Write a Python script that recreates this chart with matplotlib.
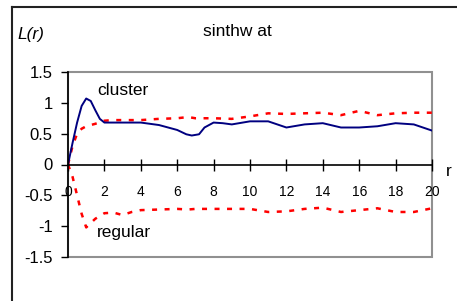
import matplotlib.pyplot as plt
from matplotlib.lines import Line2D
from matplotlib.patches import Rectangle

plt.rcParams['font.family'] = ['Liberation Sans', 'DejaVu Sans']

# observed L(r) for the pattern
r_obs = [0, 0.25, 0.5, 0.75, 1.0, 1.25, 1.5, 1.75, 2, 3, 4, 5, 6, 6.5, 6.8,
         7.2, 7.5, 8, 8.5, 9, 10, 11, 12, 13, 14, 15, 16, 17, 18, 19, 20]
L_obs = [0, 0.35, 0.68, 0.95, 1.07, 1.03, 0.88, 0.74, 0.68, 0.68, 0.68, 0.64,
         0.56, 0.49, 0.47, 0.49, 0.60, 0.68, 0.67, 0.65, 0.70, 0.70, 0.60,
         0.65, 0.67, 0.60, 0.60, 0.62, 0.67, 0.65, 0.55]

# simulation envelopes
r_env = [0, 0.25, 0.5, 0.75, 1.0, 1.5, 2, 2.5, 3, 3.5, 4, 5, 6, 6.6, 7, 8, 9,
         10, 11, 12, 13, 14, 15, 16, 17, 18, 19, 20]
L_upper = [0, 0.30, 0.50, 0.58, 0.62, 0.66, 0.71, 0.72, 0.72, 0.72, 0.72, 0.74,
           0.75, 0.77, 0.75, 0.75, 0.74, 0.78, 0.83, 0.82, 0.83, 0.84, 0.80,
           0.87, 0.80, 0.83, 0.84, 0.84]
L_lower = [0, -0.20, -0.50, -0.80, -1.02, -0.88, -0.79, -0.78, -0.82, -0.77,
           -0.74, -0.73, -0.72, -0.73, -0.72, -0.72, -0.72, -0.72, -0.77, -0.76,
           -0.72, -0.70, -0.77, -0.74, -0.71, -0.77, -0.77, -0.71]

x_ticks = list(range(0, 21, 2))
y_ticks = [-1.5, -1, -0.5, 0, 0.5, 1, 1.5]
y_labels = ['-1.5', '-1', '-0.5', '0', '0.5', '1', '1.5']

fs = 12
fs_text = 12.5

fig = plt.figure(figsize=(4.57, 3.01), dpi=100)
ax = fig.add_axes([68 / 457, 44 / 301, 364 / 457, 185 / 301])

ax.plot(r_env, L_upper, color='red', lw=1.8, linestyle=(0, (2, 3)))
ax.plot(r_env, L_lower, color='red', lw=1.8, linestyle=(0, (2, 3)))
ax.plot(r_obs, L_obs, color='#000080', lw=1.4)

ax.set_xlim(0, 20)
ax.set_ylim(-1.5, 1.5)
ax.set_xticks(x_ticks)
ax.set_xticklabels([str(t) for t in x_ticks], fontsize=fs)
ax.set_yticks(y_ticks)
ax.set_yticklabels(y_labels, fontsize=fs)

for s in ['top', 'right']:
    ax.spines[s].set_visible(False)
ax.spines['left'].set_color('black')
ax.spines['left'].set_linewidth(1.2)
ax.spines['bottom'].set_position(('data', 0))
ax.spines['bottom'].set_color('black')
ax.spines['bottom'].set_linewidth(1.2)
ax.tick_params(axis='x', direction='inout', length=9, width=1, pad=10)
ax.tick_params(axis='y', direction='out', length=5, width=1, pad=6)

# grey plot-area frame
ax.add_patch(Rectangle((0, 0), 1, 1, transform=ax.transAxes, fill=False,
                       edgecolor='#909090', lw=1.5, clip_on=False, zorder=0))

ax.text(1.6, 1.13, 'cluster', fontsize=fs_text)
ax.text(1.6, -1.17, 'regular', fontsize=fs_text)

fig.text(237 / 457, 1 - 31 / 301, 'sinthw at', fontsize=fs_text,
         ha='center', va='center')
fig.text(17 / 457, 1 - 35 / 301, 'L(r)', fontsize=fs_text, style='italic',
         ha='left', va='center')
fig.text(446 / 457, 1 - 172 / 301, 'r', fontsize=fs_text, ha='left', va='center')

# outer chart border
fig.add_artist(Line2D([12 / 457, 12 / 457], [0, 1 - 7 / 301], color='#222222', lw=1.5))
fig.add_artist(Line2D([12 / 457, 1], [1 - 7 / 301, 1 - 7 / 301], color='#222222', lw=1.5))

fig.savefig('out.png', dpi=100)
